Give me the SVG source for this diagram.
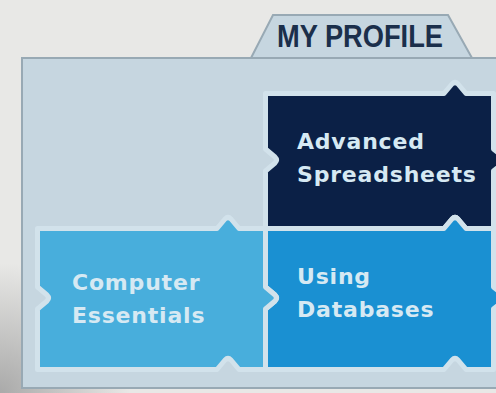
<svg xmlns="http://www.w3.org/2000/svg" width="496" height="393" viewBox="0 0 496 393">
  <defs>
    <radialGradient id="shade" cx="0" cy="393" r="130" gradientUnits="userSpaceOnUse">
      <stop offset="0" stop-color="#8f8f8f" stop-opacity="0.7"/>
      <stop offset="1" stop-color="#8f8f8f" stop-opacity="0"/>
    </radialGradient>
    <style>
      .panel { fill: #c6d6e0; stroke: #98a9b4; stroke-width: 2; }
      .tile { stroke: #d2e2eb; stroke-width: 5; stroke-linejoin: round; }
      .lbl { font-family: "DejaVu Sans", "Liberation Sans", sans-serif; font-weight: bold; font-size: 22px; letter-spacing: 0.8px; fill: #d6e9f3; }
      .title { font-family: "Liberation Sans", Arial, sans-serif; font-weight: bold; font-size: 32px; fill: #1b2f4b; }
    </style>
  </defs>
  <rect x="0" y="0" width="496" height="393" fill="#e8e8e6"/>
  <rect x="0" y="0" width="496" height="393" fill="url(#shade)"/>

  <g id="profile-tab">
    <polygon class="panel" points="251,58 273,15 448,15 472,58"/>
    <text class="title" x="277" y="47" textLength="166" lengthAdjust="spacingAndGlyphs">MY PROFILE</text>
  </g>

  <g id="profile-panel">
    <rect class="panel" x="22" y="58" width="490" height="330"/>
  </g>

  <g id="advanced-spreadsheets">
    <path class="tile" fill="#0b2046" d="M 265.5 93.5 H 444 L 452 84 Q 455 81 458 84 L 466 93.5 H 493.5 V 149 L 503 157 Q 506 160 503 163 L 493.5 171 V 228.5 H 466 L 458 219 Q 455 216 452 219 L 444 228.5 H 265.5 V 171 L 275 163 Q 278 160 275 157 L 265.5 149 Z"/>
    <text class="lbl" x="297" y="149">Advanced</text>
    <text class="lbl" x="297" y="182">Spreadsheets</text>
  </g>

  <g id="using-databases">
    <path class="tile" fill="#1a90d2" d="M 265.5 228.5 H 444 L 452 219 Q 455 216 458 219 L 466 228.5 H 493.5 V 287 L 503 295 Q 506 298 503 301 L 493.5 309 V 369.5 H 466 L 458 360 Q 455 357 452 360 L 444 369.5 H 265.5 V 309 L 275 301 Q 278 298 275 295 L 265.5 287 Z"/>
    <text class="lbl" x="297" y="284">Using</text>
    <text class="lbl" x="297" y="317">Databases</text>
  </g>

  <g id="computer-essentials">
    <path class="tile" fill="#48aedc" d="M 37.5 228.5 H 217 L 225 219 Q 228 216 231 219 L 239 228.5 H 265.5 V 287 L 275 295 Q 278 298 275 301 L 265.5 309 V 369.5 H 239 L 231 360 Q 228 357 225 360 L 217 369.5 H 37.5 V 309 L 47 301 Q 50 298 47 295 L 37.5 287 Z"/>
    <text class="lbl" x="72" y="290">Computer</text>
    <text class="lbl" x="72" y="323">Essentials</text>
  </g>

  <g id="connectors"/>
</svg>
